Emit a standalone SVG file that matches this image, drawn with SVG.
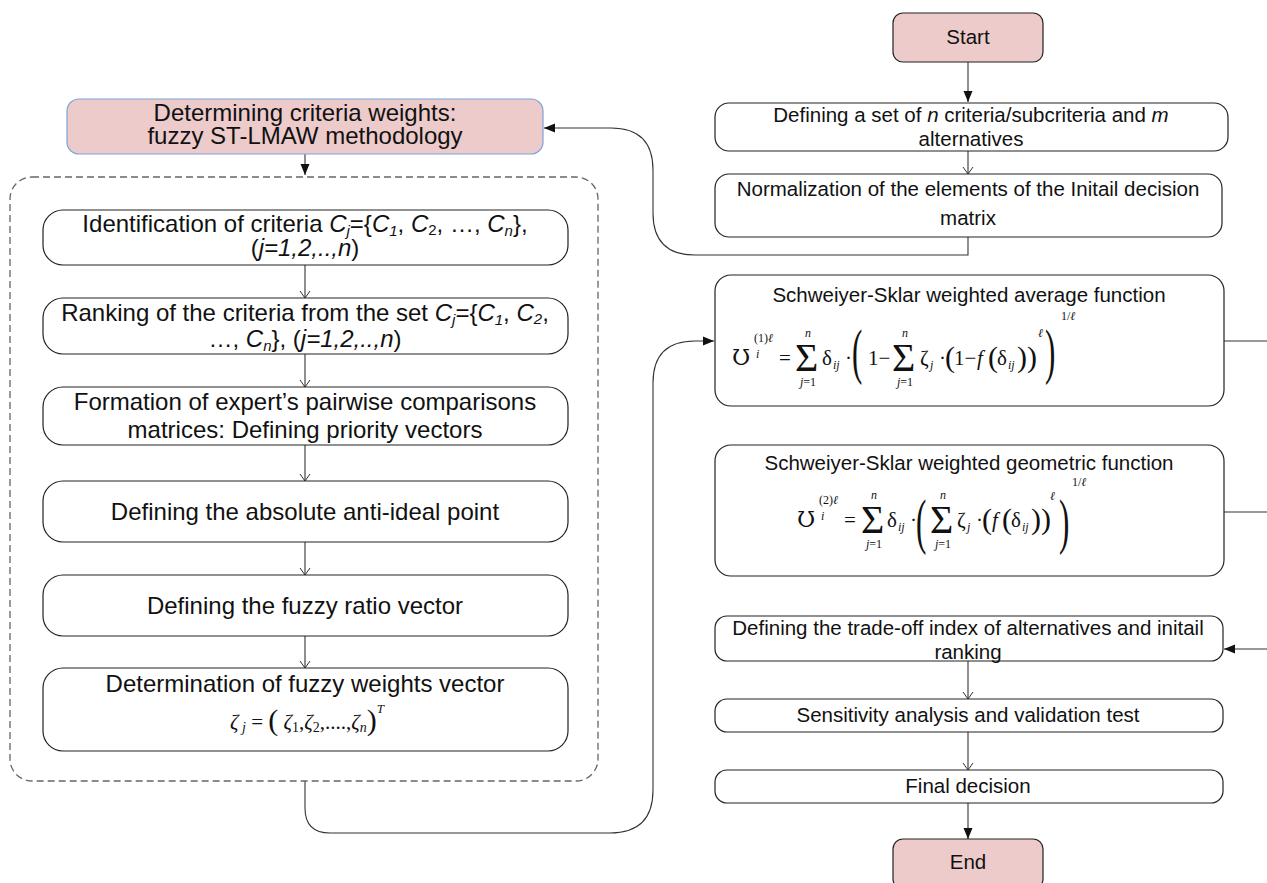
<svg xmlns="http://www.w3.org/2000/svg" width="1267" height="883" viewBox="0 0 1267 883">
<style>
.box{fill:#fff;stroke:#222;stroke-width:1.2}
.pink{fill:#EDCBCB;stroke:#222;stroke-width:1.2}
.pinkb{fill:#EDCBCB;stroke:#7BA4D8;stroke-width:1.2}
.dash{fill:none;stroke:#666;stroke-width:1.3;stroke-dasharray:7,4}
.ln{fill:none;stroke:#333;stroke-width:1.1}
.tl{font-family:"Liberation Sans",Arial,sans-serif;font-size:24px;text-anchor:middle;fill:#111}
.tr{font-family:"Liberation Sans",Arial,sans-serif;font-size:20.5px;text-anchor:middle;fill:#111}
.m{font-family:"Liberation Serif","Times New Roman",serif;font-size:21px;fill:#111}
.u{font-family:"DejaVu Serif","Liberation Serif",serif;font-size:22px;fill:#111}
.mi{font-family:"Liberation Serif","Times New Roman",serif;font-size:21px;font-style:italic;fill:#111}
.s{font-family:"Liberation Serif","Times New Roman",serif;font-size:12px;fill:#111}
.si{font-family:"Liberation Serif","Times New Roman",serif;font-size:12px;font-style:italic;fill:#111}
.sig{font-family:"Liberation Serif","Times New Roman",serif;font-size:40px;fill:#111}
.lim{font-family:"Liberation Serif","Times New Roman",serif;font-size:12px;text-anchor:middle;fill:#111}
.big{font-family:"Liberation Serif","Times New Roman",serif;font-size:62px;fill:#111}
.med{font-family:"Liberation Serif","Times New Roman",serif;font-size:30px;fill:#111}
.i{font-style:italic}
</style>
<defs>
<marker id="af" markerUnits="userSpaceOnUse" markerWidth="12" markerHeight="10" refX="11" refY="5" orient="auto">
<path d="M0,0.5 L11,5 L0,9.5 z" fill="#111"/>
</marker>
<marker id="av" markerUnits="userSpaceOnUse" markerWidth="12" markerHeight="12" refX="8" refY="6" orient="auto">
<path d="M1,1 L8,6 L1,11" fill="none" stroke="#333" stroke-width="1"/>
</marker>
</defs>

<g id="connectors">
<path class="ln" d="M968,62 L968,102" marker-end="url(#af)"/>
<path class="ln" d="M968,140 L968,174" marker-end="url(#av)"/>
<path class="ln" d="M968,237 L968,255 L695,255 Q653,255 653,213 L653,170 Q653,128 611,128 L544,128" marker-end="url(#af)"/>
<path class="ln" d="M305,154 L305,175" marker-end="url(#af)"/>
<path class="ln" d="M305,265 L305,298" marker-end="url(#av)"/>
<path class="ln" d="M305,354 L305,387" marker-end="url(#av)"/>
<path class="ln" d="M305,445 L305,481" marker-end="url(#av)"/>
<path class="ln" d="M305,542 L305,575" marker-end="url(#av)"/>
<path class="ln" d="M305,636 L305,668" marker-end="url(#av)"/>
<path class="ln" d="M305,781 L305,808 Q305,833 330,833 L610,833 Q653,833 653,790 L653,383 Q653,341 695,341 L714,341" marker-end="url(#af)"/>
<path class="ln" d="M1224,341 L1285,341 L1285,649"/>
<path class="ln" d="M1224,512 L1285,512"/>
<path class="ln" d="M1285,649 L1224,649" marker-end="url(#af)"/>
<path class="ln" d="M968,661 L968,699" marker-end="url(#av)"/>
<path class="ln" d="M968,732 L968,770" marker-end="url(#av)"/>
<path class="ln" d="M968,803 L968,839" marker-end="url(#af)"/>
</g>

<g id="dashed-group">
<rect class="dash" x="10" y="177" width="588" height="604" rx="22"/>
</g>

<g id="start">
<rect class="pink" x="893" y="13" width="150" height="49" rx="10"/>
<text class="tr" x="968" y="44">Start</text>
</g>

<g id="define-set">
<rect class="box" x="715" y="103" width="513" height="48" rx="14"/>
<text class="tr" x="971" y="122">Defining a set of <tspan class="i">n</tspan> criteria/subcriteria and <tspan class="i">m</tspan></text>
<text class="tr" x="971" y="146">alternatives</text>
</g>

<g id="normalization">
<rect class="box" x="715" y="174" width="507" height="63" rx="14"/>
<text class="tr" x="968" y="196">Normalization of the elements of the Initail decision</text>
<text class="tr" x="968" y="225">matrix</text>
</g>

<g id="weights-title">
<rect class="pinkb" x="67" y="99" width="476" height="55" rx="12"/>
<text class="tl" x="305" y="121">Determining criteria weights:</text>
<text class="tl" x="305" y="144">fuzzy ST-LMAW methodology</text>
</g>

<g id="identification">
<rect class="box" x="43" y="210" width="525" height="55" rx="20"/>
<text class="tl" x="305" y="232">Identification of criteria <tspan class="i">C</tspan><tspan class="i" font-size="15" dy="4">j</tspan><tspan dy="-4">={</tspan><tspan class="i">C</tspan><tspan class="i" font-size="15" dy="4">1</tspan><tspan dy="-4">, </tspan><tspan class="i">C</tspan><tspan font-size="15" dy="3">2</tspan><tspan dy="-3">, …, </tspan><tspan class="i">C</tspan><tspan class="i" font-size="15" dy="4">n</tspan><tspan dy="-4">},</tspan></text>
<text class="tl" x="305" y="256">(<tspan class="i">j=1,2,..,n</tspan>)</text>
</g>

<g id="ranking">
<rect class="box" x="43" y="298" width="525" height="56" rx="20"/>
<text class="tl" x="305" y="321">Ranking of the criteria from the set <tspan class="i">C</tspan><tspan class="i" font-size="15" dy="4">j</tspan><tspan dy="-4">={</tspan><tspan class="i">C</tspan><tspan class="i" font-size="15" dy="4">1</tspan><tspan dy="-4">, </tspan><tspan class="i">C</tspan><tspan class="i" font-size="15" dy="3">2</tspan><tspan dy="-3">,</tspan></text>
<text class="tl" x="305" y="347">…, <tspan class="i">C</tspan><tspan class="i" font-size="15" dy="4">n</tspan><tspan dy="-4">}, (</tspan><tspan class="i">j=1,2,..,n</tspan>)</text>
</g>

<g id="formation">
<rect class="box" x="43" y="387" width="525" height="58" rx="20"/>
<text class="tl" x="305" y="410">Formation of expert’s pairwise comparisons</text>
<text class="tl" x="305" y="438">matrices: Defining priority vectors</text>
</g>

<g id="anti-ideal">
<rect class="box" x="43" y="481" width="525" height="61" rx="20"/>
<text class="tl" x="305" y="520">Defining the absolute anti-ideal point</text>
</g>

<g id="ratio-vector">
<rect class="box" x="43" y="575" width="525" height="61" rx="20"/>
<text class="tl" x="305" y="614">Defining the fuzzy ratio vector</text>
</g>

<g id="weights-vector">
<rect class="box" x="43" y="668" width="525" height="83" rx="20"/>
<text class="tl" x="305" y="692">Determination of fuzzy weights vector</text>
<text class="mi" x="307" y="729" text-anchor="middle" font-size="23">ζ<tspan font-size="14" dy="3"> j</tspan><tspan dy="-3" font-style="normal"> = </tspan><tspan font-size="30" font-style="normal" dy="1">(</tspan><tspan dy="-1"> ζ</tspan><tspan font-size="14" font-style="normal" dy="3">1</tspan><tspan dy="-3" font-style="normal">,</tspan>ζ<tspan font-size="14" font-style="normal" dy="3">2</tspan><tspan dy="-3" font-style="normal">,....,</tspan>ζ<tspan font-size="14" dy="3">n</tspan><tspan dy="-2" font-size="30" font-style="normal">)</tspan><tspan font-size="13" dy="-17">T</tspan></text>
</g>

<g id="ss-average">
<rect class="box" x="715" y="275" width="509" height="131" rx="16"/>
<text class="tr" x="969" y="302">Schweiyer-Sklar weighted average function</text>
<text class="u" x="732" y="365">Ʊ</text>
<text class="s" x="754" y="342">(1)<tspan class="i">ℓ</tspan></text>
<text class="si" x="756" y="358">i</text>
<text class="m" x="779" y="365">=</text>
<text class="sig" x="795" y="371">Σ</text>
<text class="lim i" x="808" y="337">n</text>
<text class="lim" x="808" y="386"><tspan class="i">j</tspan>=1</text>
<text class="m" x="822" y="365">δ</text>
<text class="si" x="833" y="369">ij</text>
<text class="m" x="845" y="365">·</text>
<text class="big" transform="translate(852,372) scale(0.5,1)">(</text>
<text class="m" x="868" y="365">1−</text>
<text class="sig" x="892" y="371">Σ</text>
<text class="lim i" x="905" y="337">n</text>
<text class="lim" x="905" y="386"><tspan class="i">j</tspan>=1</text>
<text class="m" x="920" y="365">ζ</text>
<text class="si" x="930" y="369">j</text>
<text class="m" x="939" y="365">·</text>
<text class="med" x="945" y="367">(</text>
<text class="m" x="954" y="365">1−</text>
<text class="mi" x="977" y="365">f</text>
<text class="med" x="988" y="367">(</text>
<text class="m" x="997" y="365">δ</text>
<text class="si" x="1008" y="369">ij</text>
<text class="med" x="1017" y="367">))</text>
<text class="si" x="1038" y="337">ℓ</text>
<text class="big" transform="translate(1045,372) scale(0.5,1)">)</text>
<text class="s" x="1061" y="320">1/<tspan class="i">ℓ</tspan></text>
</g>

<g id="ss-geometric">
<rect class="box" x="715" y="445" width="509" height="131" rx="16"/>
<text class="tr" x="969" y="470">Schweiyer-Sklar weighted geometric function</text>
<text class="u" x="797" y="527">Ʊ</text>
<text class="s" x="819" y="504">(2)<tspan class="i">ℓ</tspan></text>
<text class="si" x="821" y="520">i</text>
<text class="m" x="844" y="527">=</text>
<text class="sig" x="861" y="533">Σ</text>
<text class="lim i" x="874" y="499">n</text>
<text class="lim" x="874" y="548"><tspan class="i">j</tspan>=1</text>
<text class="m" x="887" y="527">δ</text>
<text class="si" x="898" y="531">ij</text>
<text class="m" x="910" y="527">·</text>
<text class="big" transform="translate(916,542) scale(0.5,1)">(</text>
<text class="sig" x="930" y="533">Σ</text>
<text class="lim i" x="943" y="499">n</text>
<text class="lim" x="943" y="548"><tspan class="i">j</tspan>=1</text>
<text class="m" x="957" y="527">ζ</text>
<text class="si" x="967" y="531">j</text>
<text class="m" x="976" y="527">·</text>
<text class="med" x="982" y="529">(</text>
<text class="mi" x="992" y="527">f</text>
<text class="med" x="1002" y="529">(</text>
<text class="m" x="1011" y="527">δ</text>
<text class="si" x="1022" y="531">ij</text>
<text class="med" x="1031" y="529">))</text>
<text class="si" x="1050" y="500">ℓ</text>
<text class="big" transform="translate(1059,542) scale(0.5,1)">)</text>
<text class="s" x="1072" y="486">1/<tspan class="i">ℓ</tspan></text>
</g>

<g id="trade-off">
<rect class="box" x="715" y="616" width="508" height="45" rx="12"/>
<text class="tr" x="968" y="635">Defining the trade-off index of alternatives and initail</text>
<text class="tr" x="968" y="659">ranking</text>
</g>

<g id="sensitivity">
<rect class="box" x="715" y="699" width="508" height="33" rx="12"/>
<text class="tr" x="968" y="722">Sensitivity analysis and validation test</text>
</g>

<g id="final">
<rect class="box" x="715" y="770" width="508" height="33" rx="12"/>
<text class="tr" x="968" y="793">Final decision</text>
</g>

<g id="end">
<rect class="pink" x="893" y="839" width="150" height="50" rx="10"/>
<text class="tr" x="968" y="869">End</text>
</g>
</svg>
